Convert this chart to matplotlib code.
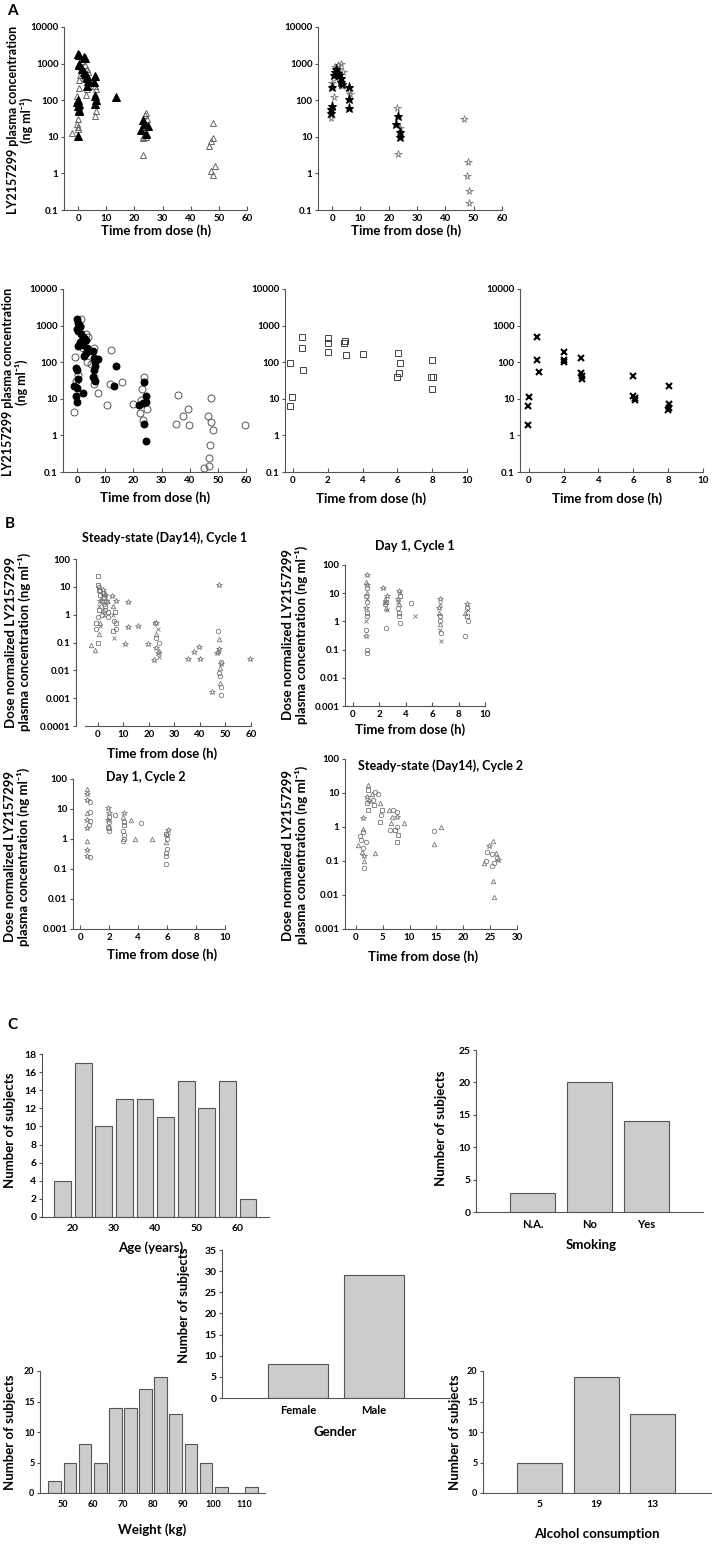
import matplotlib.pyplot as plt
from matplotlib.ticker import FixedLocator, NullLocator

plt.rcParams['font.family'] = ['Lato', 'DejaVu Sans']
plt.rcParams['font.weight'] = 'bold'
plt.rcParams['axes.linewidth'] = 0.8

# ---- panel A: plasma concentration (time h, ng/ml) ----
a1_filled = [(0, 1850), (0.5, 1750), (2, 1500), (2.5, 1450), (0.3, 1000), (0.5, 900), (1.5, 700),
             (2, 600), (2.3, 520), (3, 450), (3.2, 400), (3.5, 330), (3, 250), (0, 100), (-0.5, 90),
             (0.3, 80), (0, 70), (0.5, 55), (0.2, 50), (0, 10.5), (6, 450), (5.8, 320), (6, 130),
             (6.2, 100), (6, 80), (13.5, 125), (23, 28), (23.5, 22), (22.5, 15), (24, 12), (25, 20)]
a1_open = [(-0.5, 130), (0.3, 220), (0.2, 350), (1, 800), (0.8, 500), (1.5, 1200), (2.5, 900),
           (3, 700), (3.5, 600), (2, 400), (3, 200), (2.8, 140), (4, 250), (0, 30), (-0.3, 22),
           (0, 18), (0, 16), (-2.2, 12.4), (6, 250), (6.2, 200), (6, 150), (6.3, 50), (6, 36),
           (23, 10), (23.2, 9), (23, 3.2), (23.8, 40), (24, 45), (24.5, 30), (24.5, 12), (24, 10),
           (46.6, 5.5), (47.2, 7.7), (47.8, 9), (48, 23.5), (47.1, 1.2), (48.7, 1.6), (48, 0.9)]
a2_filled = [(0, 230), (-0.2, 70), (-0.3, 56), (-0.4, 46), (1, 600), (1.5, 700), (2, 550), (2.5, 480),
             (3, 400), (3.3, 320), (3.5, 280), (0.5, 500), (6, 230), (6, 110), (6, 62),
             (23.2, 36), (22.6, 23), (24.1, 13.5), (24, 10)]
a2_open = [(-0.5, 33), (0.5, 120), (0, 300), (1, 800), (2, 900), (3, 1000), (2.5, 700), (3.8, 600),
           (3.5, 250), (1.5, 400), (6, 180), (6.2, 150), (22.9, 62), (23.4, 3.3), (24, 17),
           (46.6, 31.6), (48.1, 2.1), (47.7, 0.85), (48.2, 0.34), (48.2, 0.16)]
a3_filled = [(0, 1500), (0.5, 1200), (1, 1000), (0, 800), (0.5, 700), (1.5, 600), (2, 500), (1, 350),
             (0.5, 280), (2, 300), (2.5, 450), (3, 400), (3.5, 250), (4, 200), (3, 180), (2.5, 150),
             (-1, 23), (-0.5, 70), (0, 60), (0.3, 35), (0, 20), (-0.3, 12), (0, 8), (2, 14),
             (5.5, 200), (6, 130), (6.2, 100), (6.5, 80), (6, 60), (5.8, 40), (6.3, 30), (7.5, 120),
             (14, 80), (13, 23), (23.8, 28), (24.5, 12), (23.5, 7.5), (22, 6.6), (24.4, 8),
             (23.8, 2), (24.4, 0.7)]
a3_open = [(-1.1, 4.4), (-0.8, 140), (-0.5, 30), (0.5, 45), (1.5, 1500), (1, 900), (3, 600), (4, 500),
           (2, 250), (3.5, 100), (5, 90), (6, 250), (6, 40), (6, 25), (7.5, 14), (10.8, 6.6),
           (12.1, 215), (11.7, 26), (15.9, 29), (19.8, 7), (22.6, 9), (23, 18), (23.8, 40),
           (22.4, 4), (23.5, 2.7), (24.7, 5.3), (36, 13), (35.1, 2), (37.5, 3.3), (39.5, 5.2),
           (39.9, 1.9), (46.6, 3.4), (47.6, 10.7), (47.6, 2.3), (48.4, 1.4), (47.2, 0.56),
           (47, 0.24), (45.1, 0.13), (46.9, 0.145), (59.6, 1.9)]
a4_square = [(-0.15, 94), (-0.2, 6.2), (-0.04, 11), (0.52, 480), (0.52, 240), (0.55, 63), (2, 450),
             (2, 330), (2, 190), (2.95, 330), (3.0, 370), (3.03, 160), (4.02, 163), (6.03, 183),
             (6.13, 94), (6.09, 50), (6.0, 40), (8, 118), (7.95, 39), (8.05, 39), (8, 19)]
a5_cross = [(0, 11.5), (-0.05, 6.2), (-0.05, 1.9), (0.5, 480), (0.5, 112), (0.6, 54), (2, 190),
            (2, 112), (2.05, 100), (3, 130), (3, 51), (3.05, 43), (3.05, 35), (6, 43), (6, 12),
            (6.07, 10.7), (6.07, 9), (8.03, 22), (8.03, 7), (8.03, 5.6), (8, 4.8)]

# ---- panel B: dose normalized concentration ----
b1_square = [(0.3, 25), (0, 12), (0.5, 8), (1, 5), (1.5, 3), (2, 6), (2.5, 4), (3, 2), (0.5, 1.5),
             (-0.5, 0.5), (0, 0.1), (4, 1.2), (6.8, 1.2), (7, 0.5), (6, 0.25)]
b1_circle = [(0.5, 10), (1, 7), (2, 4), (2.5, 2.5), (1.5, 1), (0, 0.8), (-0.5, 0.3), (3, 1.5), (4, 0.8),
             (6.5, 0.6), (7, 0.3), (22.5, 0.5), (23, 0.15), (24, 0.1), (47, 0.25), (47.5, 0.008),
             (48, 0.0065), (48.1, 0.0026), (48.1, 0.0013), (48.3, 0.02)]
b1_triangle = [(-2.6, 0.083), (-1.1, 0.056), (0.5, 0.2), (1, 0.5), (2, 1.5), (3, 6), (3.5, 3), (6, 2),
               (23, 0.2), (24, 0.05), (47.4, 0.13), (47, 0.05), (48, 0.012), (47.8, 0.0035)]
b1_star = [(1, 3), (2, 8), (3, 5), (5.4, 4.8), (7.3, 3), (11.9, 2.8), (11.9, 0.36), (15.8, 0.38),
           (10.8, 0.085), (19.6, 0.09), (22.9, 0.5), (22.2, 0.024), (23.5, 0.042), (22.9, 0.064),
           (35.2, 0.026), (37.5, 0.045), (39.7, 0.07), (39.9, 0.026), (46.5, 0.042), (47.4, 0.06),
           (48.1, 0.017), (44.9, 0.0017), (47.5, 11.2), (59.6, 0.026)]
b1_cross = [(0.5, 2), (1, 0.4), (2.5, 1), (4, 3), (6, 1), (6.5, 0.15), (23.5, 0.3), (24, 0.03)]

b2_star = [(1.05, 45), (1.1, 20), (1.0, 3), (2.3, 15), (2.6, 8), (3.5, 12), (3.4, 6), (6.6, 6),
           (6.5, 3), (8.6, 4), (1.0, 0.3)]
b2_circle = [(1.1, 15), (1.0, 8), (1.05, 5), (1.1, 1.5), (1.0, 0.5), (1.05, 0.076), (1.1, 0.1),
             (2.4, 4), (2.5, 0.6), (3.4, 3), (3.5, 1.5), (3.6, 0.9), (4.4, 4.6), (6.6, 1), (6.7, 0.4),
             (8.6, 3), (8.5, 0.3), (8.7, 1)]
b2_triangle = [(1.0, 25), (1.1, 10), (2.4, 6), (2.5, 3), (3.5, 4), (6.5, 2), (6.6, 0.8), (8.5, 2)]
b2_square = [(1.05, 2), (2.5, 5), (3.6, 8), (3.5, 2), (6.6, 1.5), (8.6, 1.5)]
b2_cross = [(1.1, 6), (1.0, 1), (2.4, 4.5), (2.6, 2.5), (3.4, 5), (3.6, 10), (4.7, 1.5), (6.6, 4),
            (6.7, 0.2), (6.6, 0.5), (8.7, 2.5)]

b3_triangle = [(0.5, 46), (0.5, 7.6), (0.45, 0.83), (2.95, 5.6), (3.5, 4.4), (3.8, 1.0), (4.95, 1.0),
               (5.95, 0.8)]
b3_star = [(0.5, 32), (0.5, 20), (0.5, 4.4), (0.5, 2.3), (0.5, 0.42), (0.5, 0.27), (1.9, 10.7),
           (2.0, 7.3), (1.9, 4.4), (3.0, 7.3), (6.05, 2), (6.0, 1.4)]
b3_circle = [(0.65, 17), (0.65, 8), (0.7, 3.9), (0.58, 3), (0.65, 0.26), (2.0, 5.6), (2.0, 3.6),
             (2.0, 2.3), (2.0, 1.8), (2.37, 6.3), (2.95, 1.8), (3.05, 1.4), (3.0, 1.0), (2.95, 0.85),
             (4.2, 3.5), (6.0, 1.0), (6.0, 0.45), (5.95, 0.35), (5.95, 0.27), (5.95, 0.15)]
b3_square = [(1.9, 2.6), (3.05, 3.6), (3.0, 3.0), (5.95, 1.5)]

b4_triangle = [(2.2, 17), (3.0, 9.4), (4.5, 5), (6.1, 3.2), (6.7, 2), (6.5, 1.35), (9.0, 1.35),
               (1.3, 0.9), (0.5, 0.3), (1.1, 0.18), (1.5, 0.1), (3.6, 0.17), (15.8, 1.0), (14.6, 0.31),
               (25.5, 0.39), (26.1, 0.17), (23.8, 0.09), (25.5, 0.026), (25.8, 0.0085)]
b4_square = [(2.2, 12), (2.1, 5), (2.2, 3.2), (3.4, 4.5), (4.8, 3.2), (4.5, 1.4), (7.3, 0.81),
             (7.8, 0.6), (7.6, 0.37)]
b4_star = [(2.1, 7.7), (7.6, 2), (1.3, 1.8), (1.5, 0.14), (24.7, 0.27), (26.4, 0.11), (2.5, 6)]
b4_circle = [(3.6, 11), (4.2, 9.4), (3.3, 6.2), (4.7, 2.2), (7.0, 3.2), (7.6, 2.8), (7.6, 0.99),
             (6.4, 0.8), (1.35, 0.7), (0.7, 0.56), (1.9, 0.37), (1.4, 0.24), (1.55, 0.063), (1.0, 0.41),
             (14.6, 0.76), (24.4, 0.18), (25.3, 0.16), (26.3, 0.12), (24.3, 0.1), (25.3, 0.07),
             (25.8, 0.09)]

# ---- panel C: demographics ----
age_bins = [17.5, 22.5, 27.5, 32.5, 37.5, 42.5, 47.5, 52.5, 57.5, 62.5]
age_counts = [4, 17, 10, 13, 13, 11, 15, 12, 15, 2]
weight_bins = [47.5, 52.5, 57.5, 62.5, 67.5, 72.5, 77.5, 82.5, 87.5, 92.5, 97.5, 102.5, 107.5, 112.5]
weight_counts = [2, 5, 8, 5, 14, 14, 17, 19, 13, 8, 5, 1, 0, 1]
smoking_cats = ['N.A.', 'No', 'Yes']
smoking_counts = [3, 20, 14]
gender_cats = ['Female', 'Male']
gender_counts = [8, 29]
alcohol_cats = ['5', '19', '13']
alcohol_counts = [5, 19, 13]

W, H = 712, 1546
fig = plt.figure(figsize=(W / 100, H / 100), dpi=100)
AX_C = '#555555'
LAB = 9.5   # axis label size
TIT = 9     # panel title size


def add_ax(l, t, r, b):
    return fig.add_axes([l / W, 1 - b / H, (r - l) / W, (b - t) / H])


def ftext(x, y, s, **kw):
    kw.setdefault('ha', 'center')
    kw.setdefault('va', 'center')
    fig.text(x / W, 1 - y / H, s, **kw)


def style_log(ax, xlim, xticks, yticks, xbounds=None, fs=7):
    ax.set_yscale('log')
    ax.set_xlim(xlim)
    ax.set_ylim(yticks[0], yticks[-1])
    ax.yaxis.set_major_locator(FixedLocator(yticks))
    ax.yaxis.set_minor_locator(NullLocator())
    ax.set_yticklabels(['%g' % y for y in yticks])
    ax.set_xticks(xticks)
    ax.set_xticklabels(['%g' % x for x in xticks])
    for s in ['top', 'right']:
        ax.spines[s].set_visible(False)
    for s in ['left', 'bottom']:
        ax.spines[s].set_color(AX_C)
    if xbounds:
        ax.spines['bottom'].set_bounds(*xbounds)
    ax.tick_params(axis='x', direction='in', length=3, pad=3, labelsize=fs, color=AX_C)
    ax.tick_params(axis='y', direction='out', length=2, pad=2, labelsize=fs, color=AX_C)
    ax.patch.set_alpha(0)


def pts(ax, data, marker, filled, ms, color='black', mew=0.7):
    t, c = zip(*data)
    ax.plot(t, c, ls='none', marker=marker, ms=ms, mew=mew,
            mfc=color if filled else 'none', mec=color, clip_on=False)


yt_a = [0.1, 1, 10, 100, 1000, 10000]
yt_b1 = [0.0001, 0.001, 0.01, 0.1, 1, 10, 100]
yt_b = [0.001, 0.01, 0.1, 1, 10, 100]

# ---------------- A ----------------
ftext(12, 11, 'A', fontsize=11)
xt60 = [0, 10, 20, 30, 40, 50, 60]
xt10 = [0, 2, 4, 6, 8, 10]
ylab_a = 'LY2157299 plasma concentration\n(ng ml⁻¹)'

ax = add_ax(64, 27, 247, 210)
style_log(ax, (-5, 60), xt60, yt_a)
pts(ax, a1_open, '^', False, 5, '#666666')
pts(ax, a1_filled, '^', True, 5.5)
ftext(156, 231, 'Time from dose (h)', fontsize=LAB)
ftext(20, 120, ylab_a, fontsize=9, rotation=90, linespacing=1.0)

ax = add_ax(318, 27, 502, 210)
style_log(ax, (-5, 60), xt60, yt_a)
pts(ax, a2_open, '*', False, 5.5, '#777777', 0.6)
pts(ax, a2_filled, '*', True, 6.5)
ftext(406, 231, 'Time from dose (h)', fontsize=LAB)

ax = add_ax(63, 289, 246, 472)
style_log(ax, (-5, 60), xt60, yt_a)
pts(ax, a3_open, 'o', False, 5, '#555555')
pts(ax, a3_filled, 'o', True, 5)
ftext(155, 498, 'Time from dose (h)', fontsize=LAB)
ftext(15, 382, ylab_a, fontsize=9, rotation=90, linespacing=1.0)

ax = add_ax(285, 289, 467, 472)
style_log(ax, (-0.46, 10), xt10, yt_a)
pts(ax, a4_square, 's', False, 4.5, '#444444')
ftext(371, 499, 'Time from dose (h)', fontsize=LAB)

ax = add_ax(520, 289, 703, 472)
style_log(ax, (-0.5, 10), xt10, yt_a)
pts(ax, a5_cross, 'x', True, 4.5, 'black', 1.5)
ftext(607, 499, 'Time from dose (h)', fontsize=LAB)

# ---------------- B ----------------
ftext(10, 524, 'B', fontsize=11)
GR = '#777777'
ylab_b = 'Dose normalized LY2157299\nplasma concentration (ng ml⁻¹)'


def b_series(ax, sets):
    for data, m in sets:
        ms = 3.2 if m != '*' else 4
        pts(ax, data, m, False, ms, GR, 0.6)


ax = add_ax(76, 559, 251, 726)
style_log(ax, (-8.5, 60), xt60, yt_b1, xbounds=(-5, 60))
b_series(ax, [(b1_square, 's'), (b1_circle, 'o'), (b1_triangle, '^'), (b1_star, '*'), (b1_cross, 'x')])
ftext(165, 538, 'Steady-state (Day14), Cycle 1', fontsize=TIT)
ftext(162, 754, 'Time from dose (h)', fontsize=LAB)
ftext(18, 642, ylab_b, fontsize=LAB, rotation=90, linespacing=1.05)

ax = add_ax(345, 565, 485, 706)
style_log(ax, (-0.6, 10), xt10, yt_b)
b_series(ax, [(b2_square, 's'), (b2_circle, 'o'), (b2_triangle, '^'), (b2_star, '*'), (b2_cross, 'x')])
ftext(415, 546, 'Day 1, Cycle 1', fontsize=TIT)
ftext(410, 730, 'Time from dose (h)', fontsize=LAB)
ftext(295, 635, ylab_b, fontsize=LAB, rotation=90, linespacing=1.05)

ax = add_ax(73, 779, 225, 929)
style_log(ax, (-0.5, 10), xt10, yt_b)
b_series(ax, [(b3_square, 's'), (b3_circle, 'o'), (b3_triangle, '^'), (b3_star, '*')])
ftext(146, 777, 'Day 1, Cycle 2', fontsize=TIT)
ftext(162, 955, 'Time from dose (h)', fontsize=LAB)
ftext(17, 857, ylab_b, fontsize=LAB, rotation=90, linespacing=1.05)

ax = add_ax(345, 759, 517, 929)
style_log(ax, (-2, 30), [0, 5, 10, 15, 20, 25, 30], yt_b)
b_series(ax, [(b4_square, 's'), (b4_circle, 'o'), (b4_triangle, '^'), (b4_star, '*')])
ftext(441, 766, 'Steady-state (Day14), Cycle 2', fontsize=TIT)
ftext(423, 957, 'Time from dose (h)', fontsize=LAB)
ftext(295, 855, ylab_b, fontsize=LAB, rotation=90, linespacing=1.05)

# ---------------- C ----------------
ftext(12, 1025, 'C', fontsize=11)
BAR_FC = '#cccccc'
BAR_EC = '#555555'


def style_bar(ax, ylim, yticks, fs=7.5, xfs=None):
    ax.set_ylim(ylim)
    ax.set_yticks(yticks)
    for s in ['top', 'right']:
        ax.spines[s].set_visible(False)
    for s in ['left', 'bottom']:
        ax.spines[s].set_color(AX_C)
    ax.tick_params(axis='x', length=0, pad=5, labelsize=xfs or fs)
    ax.tick_params(axis='y', direction='out', length=2, pad=2, labelsize=fs, color=AX_C)
    ax.patch.set_alpha(0)


ax = add_ax(42, 1054, 269, 1217)
ax.bar(age_bins, age_counts, width=4.1, color=BAR_FC, edgecolor=BAR_EC, linewidth=0.8)
ax.set_xlim(12.5, 67.6)
ax.set_xticks([20, 30, 40, 50, 60])
style_bar(ax, (0, 18), range(0, 19, 2))
ftext(151, 1248, 'Age (years)', fontsize=LAB)
ftext(10, 1130, 'Number of subjects', fontsize=LAB, rotation=90)

ax = add_ax(476, 1050, 703, 1212)
ax.bar(range(3), smoking_counts, width=0.8, color=BAR_FC, edgecolor=BAR_EC, linewidth=0.8)
ax.set_xlim(-1, 3)
ax.set_xticks(range(3))
ax.set_xticklabels(smoking_cats)
style_bar(ax, (0, 25), range(0, 26, 5), xfs=8)
ftext(591, 1245, 'Smoking', fontsize=LAB)
ftext(441, 1128, 'Number of subjects', fontsize=LAB, rotation=90)

ax = add_ax(222, 1250, 450, 1398)
ax.bar(range(2), gender_counts, width=0.8, color=BAR_FC, edgecolor=BAR_EC, linewidth=0.8)
ax.set_xlim(-1, 2)
ax.set_xticks(range(2))
ax.set_xticklabels(gender_cats)
style_bar(ax, (0, 35), range(0, 36, 5), xfs=8)
ftext(335, 1432, 'Gender', fontsize=LAB)
ftext(184, 1305, 'Number of subjects', fontsize=LAB, rotation=90)

ax = add_ax(40, 1371, 265, 1493)
ax.bar(weight_bins, weight_counts, width=4.2, color=BAR_FC, edgecolor=BAR_EC, linewidth=0.8)
ax.set_xlim(42.6, 117)
ax.set_xticks([50, 60, 70, 80, 90, 100, 110])
style_bar(ax, (0, 20), range(0, 21, 5), fs=6.5)
ftext(152, 1530, 'Weight (kg)', fontsize=LAB)
ftext(10, 1432, 'Number of subjects', fontsize=LAB, rotation=90)

ax = add_ax(483, 1371, 711, 1493)
ax.bar(range(3), alcohol_counts, width=0.8, color=BAR_FC, edgecolor=BAR_EC, linewidth=0.8)
ax.set_xlim(-1, 3.03)
ax.set_xticks(range(3))
ax.set_xticklabels(alcohol_cats)
style_bar(ax, (0, 20), range(0, 21, 5), fs=6.5, xfs=7.5)
ftext(597, 1534, 'Alcohol consumption', fontsize=LAB)
ftext(455, 1432, 'Number of subjects', fontsize=LAB, rotation=90)

fig.savefig('out.png', dpi=100)
